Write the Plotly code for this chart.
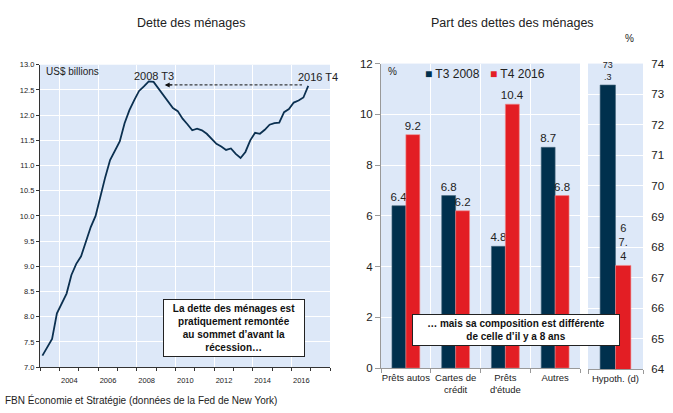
import plotly.graph_objects as go

# ---------------- data ----------------
quarters_years = list(range(2003, 2017))
debt = [
    7.23, 7.40, 7.56, 8.07,
    8.28, 8.46, 8.83, 9.05,
    9.20, 9.50, 9.78, 10.00,
    10.41, 10.77, 11.11, 11.30,
    11.48, 11.84, 12.10, 12.30,
    12.48, 12.57, 12.67, 12.66,
    12.53, 12.40, 12.27, 12.14,
    12.08, 11.93, 11.82, 11.70,
    11.73, 11.70, 11.63, 11.52,
    11.43, 11.38, 11.31, 11.34,
    11.23, 11.15, 11.27, 11.50,
    11.65, 11.63, 11.71, 11.81,
    11.84, 11.85, 12.06, 12.12,
    12.25, 12.29, 12.35, 12.58,
]
quarter_t = [y + (q - 0.5) / 4 for y in quarters_years for q in range(1, 5)]

year_ticks = [2004, 2006, 2008, 2010, 2012, 2014, 2016]
year_labels = [str(y) for y in year_ticks]
debt_ticks = [7.0 + 0.5 * i for i in range(13)]

categories = ["Prêts autos", "Cartes de<br>crédit", "Prêts<br>d'étude", "Autres"]
t3_2008 = [6.4, 6.8, 4.8, 8.7]
t4_2016 = [9.2, 6.2, 10.4, 6.8]
hyp_cat = ["Hypoth. (d)"]
hyp_t3_2008 = [73.3]
hyp_t4_2016 = [67.4]
hyp_t3_text = ["73<br>.3"]
hyp_t4_text = ["6<br>7.<br>4"]
series_names = ["T3 2008", "T4 2016"]

peak_t, peak_v = 2009.45, 12.6
last_t = 2016.55

# ---------------- style ----------------
BG = "#DDE8F8"
NAVY = "#00304D"
RED = "#E31E24"
LINE = "#0B3050"
FONT = "Liberation Sans, Arial, sans-serif"
NARROW = "Liberation Sans Narrow, Arial Narrow, Liberation Sans, sans-serif"
W, H = 673, 413

def px(x):
    return x / W

def py(y):
    return 1 - y / H

fig = go.Figure()

# left line chart
fig.add_trace(go.Scatter(
    x=quarter_t, y=debt, mode="lines",
    line=dict(color=LINE, width=1.8),
    xaxis="x", yaxis="y", showlegend=False, hoverinfo="x+y",
))

bar_common = dict(textposition="outside", cliponaxis=False, constraintext="none", showlegend=False)
fig.add_trace(go.Bar(
    x=categories, y=t3_2008, name=series_names[0],
    marker=dict(color=NAVY, line=dict(color="#4A6A80", width=0.6)),
    text=[f"{v:.1f}" for v in t3_2008],
    textfont=dict(size=11.5, color="#222222", family=FONT),
    xaxis="x2", yaxis="y2", **bar_common,
))
fig.add_trace(go.Bar(
    x=categories, y=t4_2016, name=series_names[1],
    marker=dict(color=RED, line=dict(color="#F08A8C", width=0.6)),
    text=[f"{v:.1f}" for v in t4_2016],
    textfont=dict(size=11.5, color="#222222", family=FONT),
    xaxis="x2", yaxis="y2", **bar_common,
))
fig.add_trace(go.Bar(
    x=hyp_cat, y=hyp_t3_2008, name=series_names[0],
    marker=dict(color=NAVY, line=dict(color="#4A6A80", width=0.6)),
    text=hyp_t3_text,
    textfont=dict(size=9, color="#222222", family=FONT),
    xaxis="x3", yaxis="y3", **bar_common,
))
fig.add_trace(go.Bar(
    x=hyp_cat, y=hyp_t4_2016, name=series_names[1],
    marker=dict(color=RED, line=dict(color="#F08A8C", width=0.6)),
    text=hyp_t4_text,
    textfont=dict(size=11, color="#222222", family=FONT),
    xaxis="x3", yaxis="y3", **bar_common,
))

fig.update_layout(
    width=W, height=H,
    margin=dict(l=0, r=0, t=0, b=0),
    paper_bgcolor="white", plot_bgcolor=BG,
    font=dict(family=FONT, size=11, color="#222222"),
    barmode="group", bargap=0.44, bargroupgap=0,
    showlegend=False,
    xaxis=dict(domain=[px(40), px(330)], range=[2003, 2018], anchor="y",
               tickmode="array", tickvals=year_ticks, ticktext=year_labels,
               ticklabelshift=10, ticklabelstandoff=3,
               showgrid=True, gridcolor="white", gridwidth=1,
               ticks="outside", ticklen=3, tickcolor="#333333",
               minor=dict(tickmode="linear", tick0=2003, dtick=1, ticks="outside", ticklen=3,
                          tickcolor="#333333", showgrid=False),
               showline=True, linecolor="#333333", linewidth=1,
               tickfont=dict(family=NARROW, size=7.5, color="#222222"),
               zeroline=False, fixedrange=True),
    yaxis=dict(domain=[py(372), py(60.5)], range=[7, 13], anchor="x",
               tickmode="array", tickvals=debt_ticks, ticktext=[f"{v:.1f}" for v in debt_ticks],
               showgrid=True, gridcolor="white", gridwidth=1.2,
               ticks="outside", ticklen=3, tickcolor="#333333",
               showline=True, linecolor="#333333", linewidth=1.2,
               tickfont=dict(family=NARROW, size=7.5, color="#222222"),
               zeroline=False, fixedrange=True),
    xaxis2=dict(domain=[px(381), px(580)], anchor="y2", type="category",
                tickson="boundaries", showgrid=True, gridcolor="white", gridwidth=1.2,
                ticks="outside", ticklen=4, tickcolor="#999999", tickangle=0,
                showline=True, linecolor="#999999", linewidth=1,
                tickfont=dict(size=9.5, family=FONT, color="#222222"), fixedrange=True),
    yaxis2=dict(domain=[py(373), py(59.3)], range=[0, 12], anchor="x2", dtick=2,
                showgrid=True, gridcolor="white", gridwidth=1.2,
                ticks="outside", ticklen=5, tickcolor="#999999",
                showline=True, linecolor="#999999", linewidth=1,
                zeroline=False, tickfont=dict(size=11.5, family=FONT, color="#222222"),
                fixedrange=True),
    xaxis3=dict(domain=[px(588), px(643)], anchor="y3", type="category",
                tickson="boundaries", showgrid=False, tickangle=0,
                ticks="outside", ticklen=4, tickcolor="#999999",
                showline=True, linecolor="#999999", linewidth=1,
                tickfont=dict(size=9.5, family=FONT, color="#222222"), fixedrange=True),
    yaxis3=dict(domain=[py(374.3), py(59.3)], range=[64, 74], anchor="x3", side="right", dtick=1,
                showgrid=True, gridcolor="white", gridwidth=1.2,
                ticks="outside", ticklen=5, tickcolor="rgba(0,0,0,0)",
                showline=False, zeroline=False,
                tickfont=dict(size=11.5, family=FONT, color="#222222"), fixedrange=True),
)

# dashed arrow from 2016 T4 back to 2008 T3 level
fig.add_shape(type="line", xref="x", yref="y", x0=peak_t + 0.25, x1=last_t, y0=peak_v, y1=peak_v,
              line=dict(color="#111111", width=1, dash="3px,2px"))
fig.add_annotation(xref="x", yref="y", x=peak_t, y=peak_v, ax=peak_t + 0.45, ay=peak_v,
                   axref="x", ayref="y", text="", showarrow=True, arrowhead=2,
                   arrowsize=1, arrowwidth=1, arrowcolor="#111111")

# legend (colored squares + labels)
fig.add_annotation(xref="paper", yref="paper", x=px(423), y=py(70), xanchor="left", yanchor="middle",
                   text=f"<span style='color:{NAVY}'>■</span> {series_names[0]}",
                   showarrow=False, font=dict(size=12, family=FONT, color="#222222"))
fig.add_annotation(xref="paper", yref="paper", x=px(488), y=py(70), xanchor="left", yanchor="middle",
                   text=f"<span style='color:{RED}'>■</span> {series_names[1]}",
                   showarrow=False, font=dict(size=12, family=FONT, color="#222222"))

anns = [
    dict(x=px(191), y=py(18), text="Dette des ménages", size=12.5, xanchor="center"),
    dict(x=px(512), y=py(18), text="Part des dettes des ménages", size=12.5, xanchor="center"),
    dict(x=px(3), y=py(406), text="FBN Économie et Stratégie (données de la Fed de New York)", size=10, xanchor="left"),
    dict(x=px(44), y=py(67), text="US$ billions", size=10, xanchor="left"),
    dict(x=px(154), y=py(72), text="2008 T3", size=11, xanchor="center"),
    dict(x=px(296), y=py(73), text="2016 T4", size=11, xanchor="left"),
    dict(x=px(386), y=py(67), text="%", size=10, xanchor="left"),
    dict(x=px(623), y=py(33), text="%", size=10, xanchor="left"),
]
for a in anns:
    fig.add_annotation(xref="paper", yref="paper", x=a["x"], y=a["y"], text=a["text"],
                       showarrow=False, xanchor=a["xanchor"], yanchor="middle",
                       font=dict(size=a["size"], family=FONT, color="#222222"))

fig.add_annotation(xref="paper", yref="paper", x=px(233.5), y=py(331.5),
                   text="<b>La dette des ménages est<br>pratiquement remontée<br>au sommet d’avant la<br>récession…</b>",
                   showarrow=False, xanchor="center", yanchor="middle", align="center",
                   font=dict(size=10, family=FONT, color="#111111"),
                   bgcolor="white", bordercolor="#222222", borderwidth=1, borderpad=3, width=134)
fig.add_annotation(xref="paper", yref="paper", x=px(515.5), y=py(333.5),
                   text="<b>… mais sa composition est différente<br>de celle d’il y a 8 ans</b>",
                   showarrow=False, xanchor="center", yanchor="middle", align="center",
                   font=dict(size=10, family=FONT, color="#111111"),
                   bgcolor="white", bordercolor="#222222", borderwidth=1, borderpad=3, width=200)

fig.write_html("out.html", config={"displayModeBar": False},
               post_script="document.body.style.margin='0';document.body.style.padding='0';document.body.style.overflow='hidden';")
